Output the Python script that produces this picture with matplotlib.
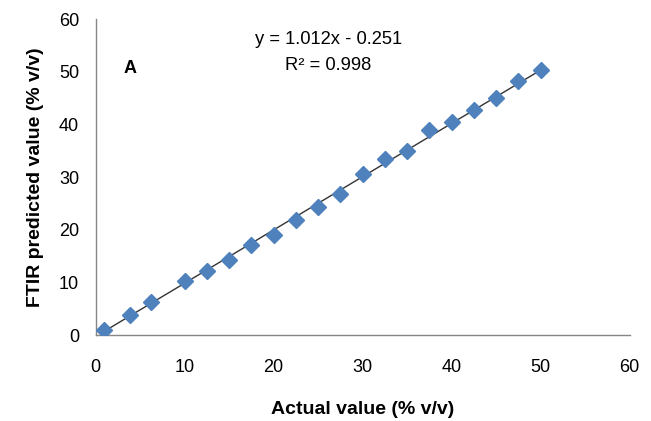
import numpy as np
import matplotlib.pyplot as plt

plt.rcParams['font.family'] = ['Liberation Sans', 'DejaVu Sans']

# Actual vs FTIR predicted (% v/v)
actual = [0.9, 3.9, 6.2, 10, 12.5, 15, 17.5, 20, 22.5, 25,
          27.5, 30, 32.5, 35, 37.5, 40, 42.5, 45, 47.5, 50]
predicted = [0.95, 3.9, 6.3, 10.2, 12.1, 14.2, 17.2, 19.1, 21.8, 24.3,
             26.9, 30.6, 33.5, 34.9, 38.9, 40.5, 42.8, 45.1, 48.2, 50.4]
slope = 1.012
intercept = -0.251
r2 = 0.998

fig = plt.figure(figsize=(6.51, 4.21), dpi=100)
ax = fig.add_axes([0.147, 0.204, 0.82, 0.75])

x_line = np.array([min(actual), max(actual)])
ax.plot(x_line, slope * x_line + intercept, color='#333333', lw=1, zorder=2)
ax.plot(actual, predicted, linestyle='none', marker='D', ms=8,
        color='#4F81BD', zorder=3)

ax.set_xlim(0, 60)
ax.set_ylim(0, 60)
ax.set_xticks(range(0, 61, 10))
ax.set_yticks(range(0, 61, 10))
ax.tick_params(axis='x', length=0, pad=17, labelsize=13)
ax.tick_params(axis='y', length=0, pad=12, labelsize=13)

for s in ['top', 'right']:
    ax.spines[s].set_visible(False)
for s in ['left', 'bottom']:
    ax.spines[s].set_color('#868686')
    ax.spines[s].set_linewidth(1)

ax.set_xlabel('Actual value (% v/v)', fontsize=14, fontweight='bold', labelpad=18)
ax.set_ylabel('FTIR predicted value (% v/v)', fontsize=14, fontweight='bold', labelpad=11)

ax.text(0.437, 0.935, f'y = {slope}x - {abs(intercept)}',
        transform=ax.transAxes, ha='center', va='center', fontsize=13.2)
ax.text(0.435, 0.855, f'R² = {r2}',
        transform=ax.transAxes, ha='center', va='center', fontsize=13.2)
ax.text(0.053, 0.83, 'A', transform=ax.transAxes, fontsize=13, fontweight='bold')

fig.savefig('out.png', dpi=100)
